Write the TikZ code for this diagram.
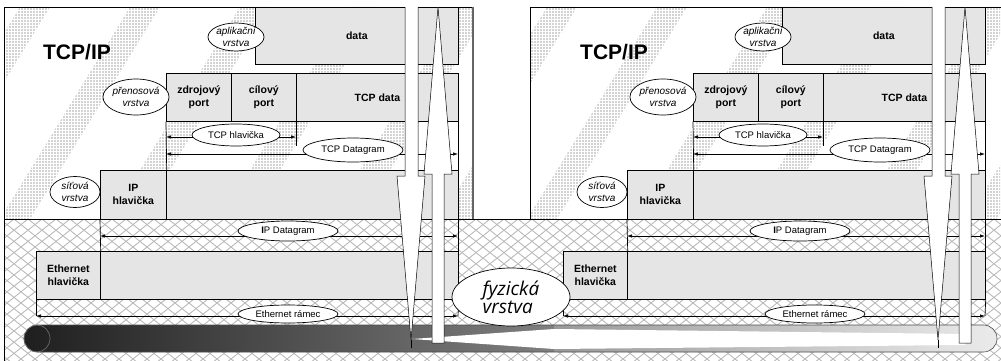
\documentclass[tikz,border=0pt]{standalone}
\usepackage{fontspec}
\setmainfont{Liberation Sans}
\newfontfamily\physfont{Open Sans}
\usetikzlibrary{shapes.geometric, arrows.meta, patterns}
\definecolor{PduGrey}{RGB}{229,229,229}
\definecolor{HatchGrey}{RGB}{188,188,188}
\definecolor{DotGrey}{RGB}{150,150,150}
\pgfdeclarepatternformonly{bigdots}{\pgfqpoint{0pt}{0pt}}{\pgfqpoint{3pt}{3pt}}{\pgfqpoint{3pt}{3pt}}{%
  \pgfpathrectangle{\pgfqpoint{0.6pt}{0.6pt}}{\pgfqpoint{1.6pt}{1.6pt}}\pgfusepath{fill}}
\tikzset{
  pdubox/.style={draw=black, fill=PduGrey, line width=.7pt, anchor=north west, inner sep=0pt, align=center, font=\bfseries\fontsize{10.5}{13}\selectfont},
  vrstva/.style={ellipse, draw=black, fill=white, line width=.7pt, inner sep=0pt, align=center, font=\itshape\fontsize{10}{12}\selectfont},
  dimtag/.style={ellipse, draw=black, fill=white, line width=.7pt, inner sep=0pt, font=\fontsize{9.5}{11}\selectfont},
  dimline/.style={line width=.7pt, {Latex[length=5pt,width=3.5pt]}-{Latex[length=5pt,width=3.5pt]}},
  bigarrow/.style={draw=black, fill=white, line width=.5pt},
  hatchline/.style={HatchGrey, line width=.9pt}
}

\begin{document}
\begin{tikzpicture}[x=1pt, y=-1pt]
    \useasboundingbox (0,0) rectangle (1001,361);

    % Fyzicka vrstva - mrizka
    \begin{scope}
      \clip (4,219) rectangle (1001,361);
      \foreach \i in {-14,...,85}{
        \draw[hatchline] (\i*14,219) -- ++(180,144);
        \draw[hatchline] (\i*14,219) -- ++(-180,144);
      }
    \end{scope}

    % Tecky v horni casti
    \foreach \s in {0,527}{
      \begin{scope}[xshift=\s]
        \clip (4,7) rectangle (473,219);
        \foreach \b in {-110,0,...,490}
          \fill[pattern=bigdots, pattern color=DotGrey] (\b,219) -- ++(30,0) -- ++(130,-212) -- ++(-30,0) -- cycle;
      \end{scope}
    }

    % Kabel
    \begin{scope}
      \clip[rounded corners=13.5pt] (24,325) rectangle (997,352);
      \shade[left color=black!88, right color=black!50] (24,325) rectangle (554,352);
      \shade[left color=black!40, right color=black!8] (554,325) rectangle (997,352);
    \end{scope}
    \draw[black!70, line width=.6pt, rounded corners=13.5pt] (24,325) rectangle (997,352);
    \draw[black!55, line width=.6pt] (37,338.5) ellipse (13 and 13.5);
    \fill[white] (412,339) -- (554,329) -- (965,334) -- (965,345) -- (554,349) -- cycle;

    % Ramy
    \draw[line width=.7pt] (4,361) -- (4,7) -- (473,7);
    \draw[black!60, line width=1.2pt] (473,7) -- (473,219);
    \draw[line width=.7pt] (530,219) -- (530,7) -- (1002,7);
    \draw[line width=.7pt] (4,219) -- (1002,219);

    \foreach \s/\p/\t/\d in {0/L/77/0, 527/R/87/-15}{
      \begin{scope}[xshift=\s]
        \node[font=\bfseries\fontsize{21}{21}\selectfont] (stack\p) at (\t,52) {TCP/IP};

        % Aplikacni vrstva
        \node[pdubox, minimum width=203pt, minimum height=57pt] (data\p) at (255,7) {data};
        \node[vrstva, minimum width=56pt, minimum height=28pt] (app\p) at (236,37) {aplikační\\vrstva};

        % Prenosova vrstva
        \node[pdubox, minimum width=65pt, minimum height=48pt] (src\p) at (166,73) {zdrojový\\port};
        \node[pdubox, minimum width=65pt, minimum height=48pt] (dst\p) at (231,73) {cílový\\port};
        \node[pdubox, minimum width=162pt, minimum height=48pt] (tcpd\p) at (296,73) {TCP data};
        \node[vrstva, minimum width=55pt, minimum height=36pt] (trans\p) at (136,97) {přenosová\\vrstva};

        % Sitova vrstva
        \node[pdubox, minimum width=66pt, minimum height=49pt] (iph\p) at (100,170) {IP\\hlavička};
        \node[pdubox, minimum width=292pt, minimum height=49pt] (ipd\p) at (166,170) {};
        \node[vrstva, minimum width=50pt, minimum height=31pt] (net\p) at (75,192) {síťová\\vrstva};

        % Ethernet
        \node[pdubox, minimum width=64pt, minimum height=48pt] (eth\p) at (36,251) {Ethernet\\hlavička};
        \node[pdubox, minimum width=358pt, minimum height=48pt] (ethd\p) at (100,251) {};

        % Rozsahy
        \draw[line width=.7pt] (src\p.south west) -- (iph\p.north east);
        \draw[line width=.7pt] (tcpd\p.south east) -- (ipd\p.north east);
        \draw[line width=.7pt] (dst\p.south east) -- ++(0,24);
        \draw[line width=.7pt] (iph\p.south west) -- (eth\p.north east);
        \draw[line width=.7pt] (ipd\p.south east) -- (ethd\p.north east);
        \coordinate (thA\p) at (166,137);
        \coordinate (thB\p) at (296,137);
        \coordinate (tdA\p) at (166,154);
        \coordinate (tdB\p) at (458,154);
        \coordinate (idA\p) at (100,236);
        \coordinate (idB\p) at (458,236);
        \coordinate (erA\p) at (36,316);
        \coordinate (erB\p) at (458,316);
        \draw[line width=.7pt] (eth\p.south west) -- (erA\p);
        \draw[line width=.7pt] (ethd\p.south east) -- (erB\p);
        \draw[dimline] (thA\p) -- (thB\p);
        \draw[dimline] (tdA\p) -- (tdB\p);
        \draw[dimline] (idA\p) -- (idB\p);
        \draw[dimline] (erA\p) -- (erB\p);
        \node[dimtag, minimum width=88pt, minimum height=22pt] (thTag\p) at (236,135) {TCP hlavička};
        \node[dimtag, minimum width=100pt, minimum height=24pt] (tdTag\p) at (353,150) {TCP Datagram};
        \node[dimtag, minimum width=100pt, minimum height=20pt] (idTag\p) at (288+\d,231) {{\bfseries I}P Datagram};
        \node[dimtag, minimum width=100pt, minimum height=18pt] (erTag\p) at (288,314) {Ethernet rámec};

        % Velke sipky
        \draw[bigarrow] (405,7) -- (405,176) -- (397,176) -- (411,340) -- (425,176) -- (418,176) -- (418,7);
        \draw[line width=.6pt] (411,340) -- (411,348);
        \draw[bigarrow] (432,343) -- (432,174) -- (424,174) -- (438,7) -- (452,174) -- (444,174) -- (444,343) -- cycle;
      \end{scope}
    }

    \node[ellipse, draw, fill=white, line width=.7pt, inner sep=0pt, minimum width=118pt, minimum height=58pt, align=left, font=\physfont\itshape\fontsize{19}{16}\selectfont] (phys) at (511,297) {fyzická\\vrstva};
\end{tikzpicture}
\end{document}
